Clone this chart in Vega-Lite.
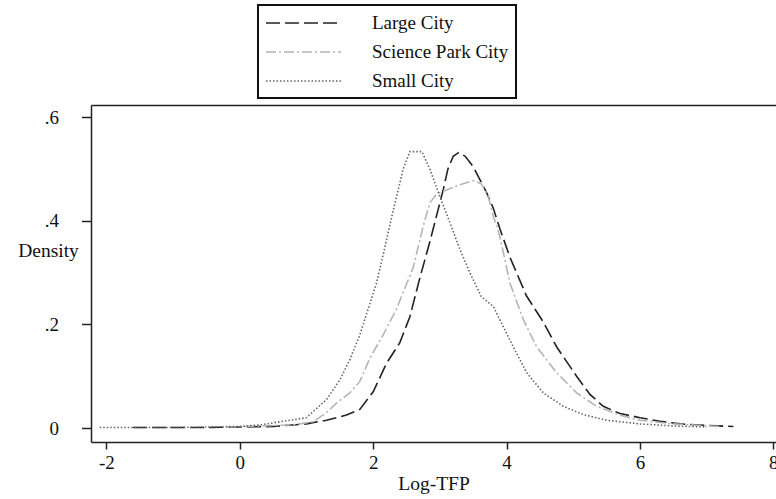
{
  "$schema": "https://vega.github.io/schema/vega-lite/v6.json",
  "width": 685,
  "height": 337,
  "autosize": "none",
  "padding": {"left": 91, "top": 105, "right": 0, "bottom": 57},
  "background": "white",
  "config": {
    "view": {"stroke": null},
    "font": "Liberation Serif",
    "axis": {
      "grid": false,
      "domainColor": "#222",
      "domainWidth": 1.5,
      "tickColor": "#222",
      "tickWidth": 1.5,
      "labelFont": "Liberation Serif",
      "labelFontSize": 19,
      "labelColor": "#111",
      "titleFont": "Liberation Serif",
      "titleFontSize": 19.5,
      "titleFontWeight": "normal",
      "titleColor": "#111"
    }
  },
  "data": {
    "values": [
      {"city": "Large City", "x": -1.6, "y": 0.001},
      {"city": "Large City", "x": -1.0, "y": 0.001},
      {"city": "Large City", "x": -0.5, "y": 0.001},
      {"city": "Large City", "x": 0.0, "y": 0.002},
      {"city": "Large City", "x": 0.5, "y": 0.003},
      {"city": "Large City", "x": 1.0, "y": 0.008},
      {"city": "Large City", "x": 1.3, "y": 0.015},
      {"city": "Large City", "x": 1.6, "y": 0.025},
      {"city": "Large City", "x": 1.8, "y": 0.036},
      {"city": "Large City", "x": 2.0, "y": 0.07},
      {"city": "Large City", "x": 2.2, "y": 0.125},
      {"city": "Large City", "x": 2.4, "y": 0.165},
      {"city": "Large City", "x": 2.55, "y": 0.215},
      {"city": "Large City", "x": 2.7, "y": 0.29},
      {"city": "Large City", "x": 2.85, "y": 0.36},
      {"city": "Large City", "x": 2.97, "y": 0.42},
      {"city": "Large City", "x": 3.05, "y": 0.46},
      {"city": "Large City", "x": 3.12, "y": 0.5},
      {"city": "Large City", "x": 3.2, "y": 0.525},
      {"city": "Large City", "x": 3.28, "y": 0.532},
      {"city": "Large City", "x": 3.38, "y": 0.525},
      {"city": "Large City", "x": 3.5, "y": 0.505},
      {"city": "Large City", "x": 3.6, "y": 0.48},
      {"city": "Large City", "x": 3.7, "y": 0.455},
      {"city": "Large City", "x": 3.8, "y": 0.425},
      {"city": "Large City", "x": 3.9, "y": 0.385},
      {"city": "Large City", "x": 4.05, "y": 0.33},
      {"city": "Large City", "x": 4.3, "y": 0.255},
      {"city": "Large City", "x": 4.55, "y": 0.205},
      {"city": "Large City", "x": 4.75, "y": 0.157},
      {"city": "Large City", "x": 5.05, "y": 0.1},
      {"city": "Large City", "x": 5.25, "y": 0.065},
      {"city": "Large City", "x": 5.45, "y": 0.042},
      {"city": "Large City", "x": 5.7, "y": 0.028},
      {"city": "Large City", "x": 6.0, "y": 0.02},
      {"city": "Large City", "x": 6.3, "y": 0.013},
      {"city": "Large City", "x": 6.6, "y": 0.008},
      {"city": "Large City", "x": 7.0, "y": 0.005},
      {"city": "Large City", "x": 7.4, "y": 0.003},
      {"city": "Science Park City", "x": -0.2, "y": 0.002},
      {"city": "Science Park City", "x": 0.3, "y": 0.004},
      {"city": "Science Park City", "x": 0.8, "y": 0.006},
      {"city": "Science Park City", "x": 1.1, "y": 0.012},
      {"city": "Science Park City", "x": 1.3, "y": 0.03},
      {"city": "Science Park City", "x": 1.45, "y": 0.048},
      {"city": "Science Park City", "x": 1.65, "y": 0.068},
      {"city": "Science Park City", "x": 1.8, "y": 0.09},
      {"city": "Science Park City", "x": 1.95, "y": 0.135},
      {"city": "Science Park City", "x": 2.15, "y": 0.18},
      {"city": "Science Park City", "x": 2.35, "y": 0.23},
      {"city": "Science Park City", "x": 2.6, "y": 0.31},
      {"city": "Science Park City", "x": 2.75, "y": 0.39},
      {"city": "Science Park City", "x": 2.85, "y": 0.435},
      {"city": "Science Park City", "x": 2.95, "y": 0.452},
      {"city": "Science Park City", "x": 3.1, "y": 0.46},
      {"city": "Science Park City", "x": 3.3, "y": 0.47},
      {"city": "Science Park City", "x": 3.5, "y": 0.478},
      {"city": "Science Park City", "x": 3.62, "y": 0.472},
      {"city": "Science Park City", "x": 3.72, "y": 0.45},
      {"city": "Science Park City", "x": 3.8, "y": 0.41},
      {"city": "Science Park City", "x": 3.9, "y": 0.37},
      {"city": "Science Park City", "x": 4.05, "y": 0.28},
      {"city": "Science Park City", "x": 4.25, "y": 0.21},
      {"city": "Science Park City", "x": 4.45, "y": 0.157},
      {"city": "Science Park City", "x": 4.75, "y": 0.107},
      {"city": "Science Park City", "x": 5.05, "y": 0.068},
      {"city": "Science Park City", "x": 5.35, "y": 0.042},
      {"city": "Science Park City", "x": 5.7, "y": 0.025},
      {"city": "Science Park City", "x": 6.0, "y": 0.015},
      {"city": "Science Park City", "x": 6.5, "y": 0.008},
      {"city": "Science Park City", "x": 7.2, "y": 0.003},
      {"city": "Small City", "x": -2.1, "y": 0.001},
      {"city": "Small City", "x": -1.5, "y": 0.001},
      {"city": "Small City", "x": -1.0, "y": 0.001},
      {"city": "Small City", "x": -0.5, "y": 0.002},
      {"city": "Small City", "x": 0.0, "y": 0.003},
      {"city": "Small City", "x": 0.3, "y": 0.006},
      {"city": "Small City", "x": 0.6, "y": 0.012},
      {"city": "Small City", "x": 1.0, "y": 0.02},
      {"city": "Small City", "x": 1.3, "y": 0.055},
      {"city": "Small City", "x": 1.5, "y": 0.093},
      {"city": "Small City", "x": 1.65, "y": 0.132},
      {"city": "Small City", "x": 1.8, "y": 0.18},
      {"city": "Small City", "x": 1.95, "y": 0.24},
      {"city": "Small City", "x": 2.05, "y": 0.28},
      {"city": "Small City", "x": 2.15, "y": 0.335},
      {"city": "Small City", "x": 2.3, "y": 0.42},
      {"city": "Small City", "x": 2.45, "y": 0.5},
      {"city": "Small City", "x": 2.55, "y": 0.534},
      {"city": "Small City", "x": 2.73, "y": 0.534},
      {"city": "Small City", "x": 2.85, "y": 0.5},
      {"city": "Small City", "x": 3.0, "y": 0.447},
      {"city": "Small City", "x": 3.15, "y": 0.397},
      {"city": "Small City", "x": 3.3, "y": 0.345},
      {"city": "Small City", "x": 3.45, "y": 0.3},
      {"city": "Small City", "x": 3.62, "y": 0.254},
      {"city": "Small City", "x": 3.8, "y": 0.235},
      {"city": "Small City", "x": 3.95, "y": 0.196},
      {"city": "Small City", "x": 4.1, "y": 0.157},
      {"city": "Small City", "x": 4.3, "y": 0.107},
      {"city": "Small City", "x": 4.55, "y": 0.068},
      {"city": "Small City", "x": 4.85, "y": 0.042},
      {"city": "Small City", "x": 5.15, "y": 0.026},
      {"city": "Small City", "x": 5.5, "y": 0.015},
      {"city": "Small City", "x": 6.0, "y": 0.008},
      {"city": "Small City", "x": 6.5, "y": 0.004},
      {"city": "Small City", "x": 7.0, "y": 0.002}
    ]
  },
  "layer": [
    {
      "mark": {"type": "line", "strokeWidth": 1.6, "clip": true},
      "encoding": {
        "x": {
          "field": "x", "type": "quantitative",
          "scale": {"domain": [-2.231, 8.04], "nice": false, "zero": false},
          "axis": {
            "orient": "bottom",
            "values": [-2, 0, 2, 4, 6, 8],
            "labelExpr": "'' + datum.value",
            "tickSize": 7,
            "labelPadding": 4,
            "title": "Log-TFP",
            "titlePadding": 2
          }
        },
        "y": {
          "field": "y", "type": "quantitative",
          "scale": {"domain": [-0.027, 0.624], "nice": false, "zero": false},
          "axis": {
            "values": [0, 0.2, 0.4, 0.6],
            "labelExpr": "datum.value == 0 ? '0' : replace(format(datum.value, '.1f'), '0.', '.')",
            "tickSize": 9.5,
            "labelPadding": 23,
            "title": "Density",
            "titleAngle": 0,
            "titleAlign": "center",
            "titleBaseline": "middle",
            "titleX": -43,
            "titleY": 145
          }
        },
        "color": {
          "field": "city", "type": "nominal",
          "scale": {"domain": ["Large City", "Science Park City", "Small City"], "range": ["#222222", "#b4b4b4", "#666666"]},
          "legend": {
            "orient": "none",
            "legendX": 167,
            "legendY": -100,
            "title": null,
            "direction": "vertical",
            "strokeColor": "#111",
            "padding": 7,
            "rowPadding": 8,
            "symbolType": "M-1,0H6.5",
            "symbolSize": 400,
            "symbolStrokeWidth": 1.6,
            "labelOffset": 85,
            "labelFont": "Liberation Serif",
            "labelFontSize": 19,
            "labelColor": "#111",
            "encode": {"legend": {"update": {"strokeWidth": {"value": 2}}}}
          }
        },
        "strokeDash": {
          "field": "city", "type": "nominal",
          "scale": {"domain": ["Large City", "Science Park City", "Small City"], "range": [[14, 5], [10, 3, 2, 3], [1.5, 2]]},
          "legend": null
        }
      }
    },
    {
      "mark": {"type": "line", "strokeOpacity": 0},
      "encoding": {
        "x": {
          "field": "x", "type": "quantitative",
          "scale": {"domain": [-2.231, 8.04], "nice": false, "zero": false},
          "axis": {"orient": "top", "labels": false, "ticks": false, "title": null}
        },
        "y": {"field": "y", "type": "quantitative"}
      }
    }
  ],
  "resolve": {"axis": {"x": "independent"}}
}
